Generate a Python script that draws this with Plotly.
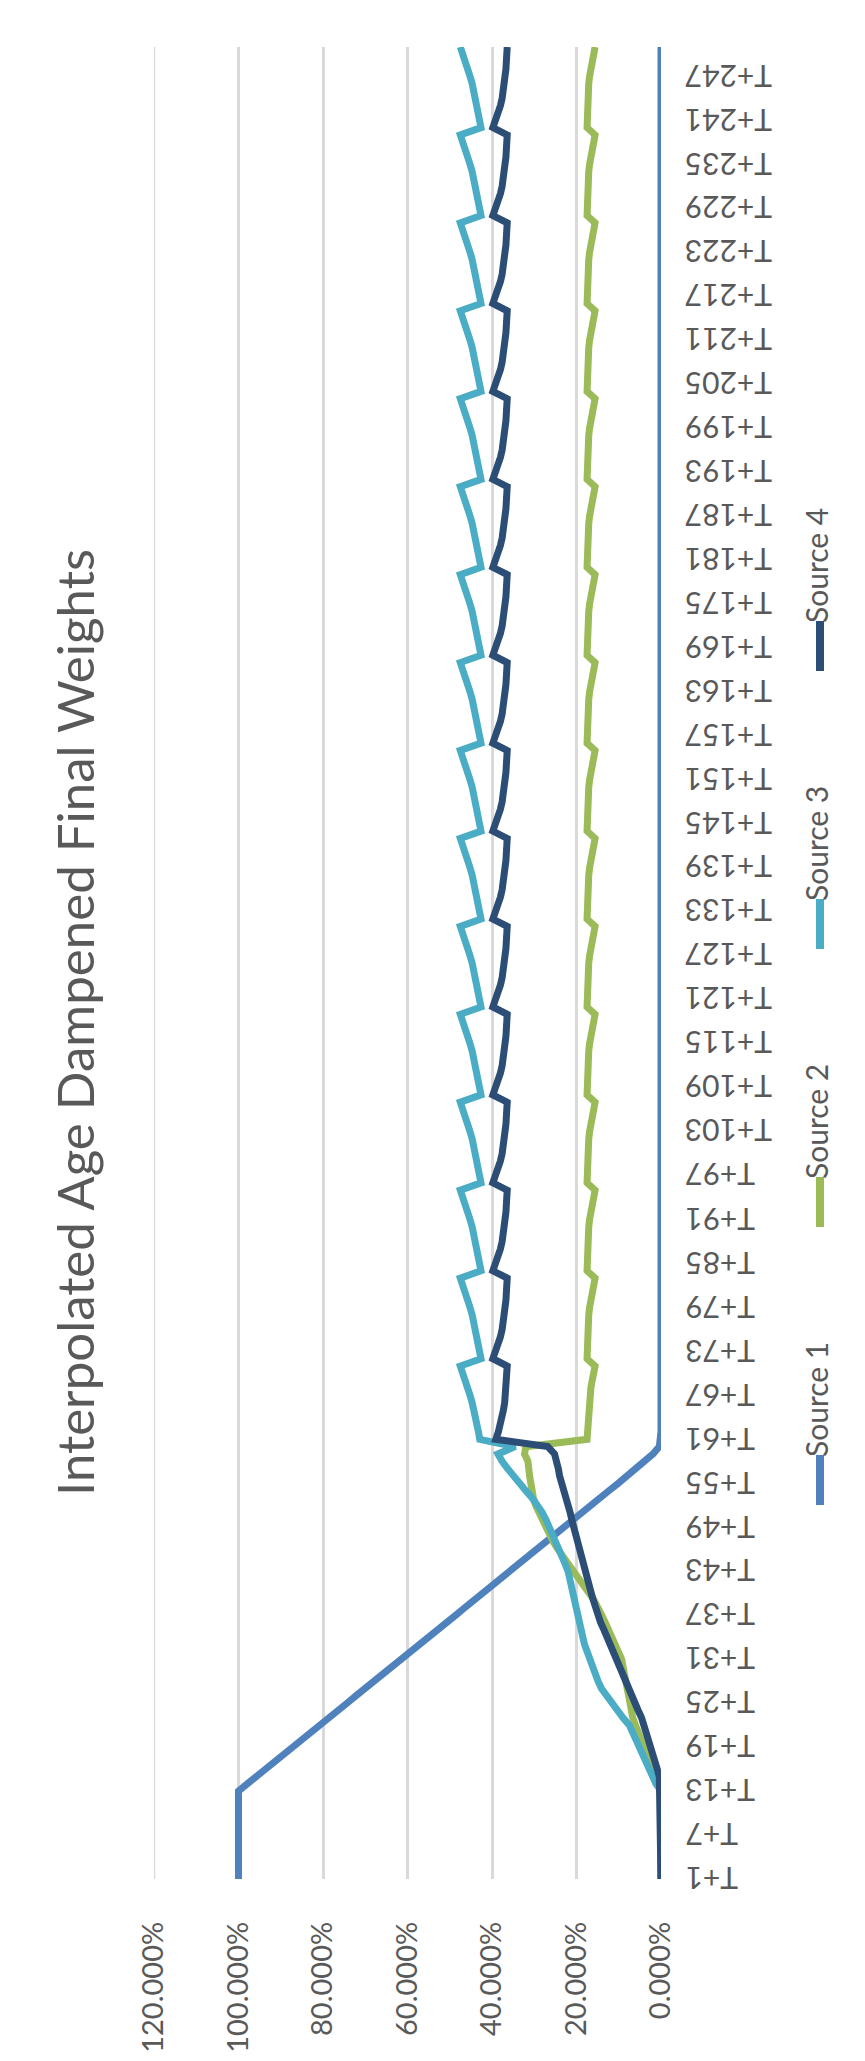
import plotly.graph_objs as go

# categories T+1 .. T+251, every 6th one labelled
categories = ["T+{}".format(i) for i in range(1, 252)]
tick_labels = categories[::6]

value_ticks = [0, 20, 40, 60, 80, 100, 120]
value_tick_text = ["0.000%", "20.000%", "40.000%", "60.000%", "80.000%", "100.000%", "120.000%"]

series_names = ["Source 1", "Source 2", "Source 3", "Source 4"]
series_colors = ["#4F81BD", "#9BBB59", "#4BACC6", "#2C4D75"]

# values in percent
source1 = ([100.0] * 13 +
           [97.9, 95.7, 93.6, 91.4, 89.3, 87.2, 85.0, 82.9, 80.7,
            78.6, 76.5, 74.3, 72.2, 70.0, 67.9, 65.8, 63.6, 61.5,
            59.3, 57.2, 55.1, 52.9, 50.8, 48.6, 46.5, 44.4, 42.2,
            40.1, 37.9, 35.8, 33.7, 31.5, 29.4, 27.2, 25.1, 23.0,
            20.8, 18.7, 16.5, 14.4, 12.3, 10.1, 8.0, 5.9, 3.8, 1.9,
            0.4] +
           [0.0] * 191)

source2 = ([0.0] * 13 +
           [0.7, 1.4, 2.1, 2.8, 3.5, 4.2, 4.9, 5.6, 6.3,
            6.7, 7.0, 7.4, 7.7, 8.0, 8.4, 8.7, 9.0, 9.3,
            10.0, 10.8, 11.6, 12.4, 13.2, 14.0, 14.7,
            15.8, 17.0, 18.3, 19.5, 20.8, 22.0, 23.2, 24.4, 25.5,
            26.4, 27.3, 28.2, 29.1, 29.7, 30.2, 30.6, 30.9, 31.1, 31.3, 31.5, 32.3, 32.0] +
           [17.5, 17.4, 17.4, 17.3, 17.2, 17.1, 16.9, 16.6, 16.3, 16.0, 15.6] +
           [17.5, 17.5, 17.4, 17.4, 17.3, 17.2, 17.1, 16.9, 16.6, 16.3, 16.0, 15.6,  # T+72
            17.5, 17.5, 17.4, 17.4, 17.3, 17.2, 17.1, 16.9, 16.6, 16.3, 16.0, 15.6,  # T+84
            17.5, 17.5, 17.4, 17.4, 17.3, 17.2, 17.1, 16.9, 16.6, 16.3, 16.0, 15.6,  # T+96
            17.5, 17.5, 17.4, 17.4, 17.3, 17.2, 17.1, 16.9, 16.6, 16.3, 16.0, 15.6,  # T+108
            17.5, 17.5, 17.4, 17.4, 17.3, 17.2, 17.1, 16.9, 16.6, 16.3, 16.0, 15.6,  # T+120
            17.5, 17.5, 17.4, 17.4, 17.3, 17.2, 17.1, 16.9, 16.6, 16.3, 16.0, 15.6,  # T+132
            17.5, 17.5, 17.4, 17.4, 17.3, 17.2, 17.1, 16.9, 16.6, 16.3, 16.0, 15.6,  # T+144
            17.5, 17.5, 17.4, 17.4, 17.3, 17.2, 17.1, 16.9, 16.6, 16.3, 16.0, 15.6,  # T+156
            17.5, 17.5, 17.4, 17.4, 17.3, 17.2, 17.1, 16.9, 16.6, 16.3, 16.0, 15.6,  # T+168
            17.5, 17.5, 17.4, 17.4, 17.3, 17.2, 17.1, 16.9, 16.6, 16.3, 16.0, 15.6,  # T+180
            17.5, 17.5, 17.4, 17.4, 17.3, 17.2, 17.1, 16.9, 16.6, 16.3, 16.0, 15.6,  # T+192
            17.5, 17.5, 17.4, 17.4, 17.3, 17.2, 17.1, 16.9, 16.6, 16.3, 16.0, 15.6,  # T+204
            17.5, 17.5, 17.4, 17.4, 17.3, 17.2, 17.1, 16.9, 16.6, 16.3, 16.0, 15.6,  # T+216
            17.5, 17.5, 17.4, 17.4, 17.3, 17.2, 17.1, 16.9, 16.6, 16.3, 16.0, 15.6,  # T+228
            17.5, 17.5, 17.4, 17.4, 17.3, 17.2, 17.1, 16.9, 16.6, 16.3, 16.0, 15.6]) # T+240

source3 = ([0.0] * 13 +
           [1.2, 2.0, 2.8, 3.5, 4.2, 5.0, 5.7, 6.5, 7.5,
            9.0, 10.4, 11.7, 13.0, 14.1, 14.9, 15.6, 16.3, 17.0,
            17.6, 18.1, 18.5, 18.9, 19.3, 19.7, 20.1,
            20.5, 20.8, 21.1, 21.4, 22.0, 22.7, 23.4, 24.1, 24.9,
            25.6, 26.4, 27.2, 28.1, 29.2, 30.5, 32.0, 33.6, 35.0, 36.3, 37.6, 38.6, 34.5] +
           [42.9, 43.2, 43.5, 43.9, 44.3, 44.7, 45.2, 45.7, 46.2, 46.8, 47.5] +
           [42.6, 42.9, 43.2, 43.5, 43.9, 44.3, 44.7, 45.2, 45.7, 46.2, 46.8, 47.5,  # T+72
            42.6, 42.9, 43.2, 43.5, 43.9, 44.3, 44.7, 45.2, 45.7, 46.2, 46.8, 47.5,  # T+84
            42.6, 42.9, 43.2, 43.5, 43.9, 44.3, 44.7, 45.2, 45.7, 46.2, 46.8, 47.5,  # T+96
            42.6, 42.9, 43.2, 43.5, 43.9, 44.3, 44.7, 45.2, 45.7, 46.2, 46.8, 47.5,  # T+108
            42.6, 42.9, 43.2, 43.5, 43.9, 44.3, 44.7, 45.2, 45.7, 46.2, 46.8, 47.5,  # T+120
            42.6, 42.9, 43.2, 43.5, 43.9, 44.3, 44.7, 45.2, 45.7, 46.2, 46.8, 47.5,  # T+132
            42.6, 42.9, 43.2, 43.5, 43.9, 44.3, 44.7, 45.2, 45.7, 46.2, 46.8, 47.5,  # T+144
            42.6, 42.9, 43.2, 43.5, 43.9, 44.3, 44.7, 45.2, 45.7, 46.2, 46.8, 47.5,  # T+156
            42.6, 42.9, 43.2, 43.5, 43.9, 44.3, 44.7, 45.2, 45.7, 46.2, 46.8, 47.5,  # T+168
            42.6, 42.9, 43.2, 43.5, 43.9, 44.3, 44.7, 45.2, 45.7, 46.2, 46.8, 47.5,  # T+180
            42.6, 42.9, 43.2, 43.5, 43.9, 44.3, 44.7, 45.2, 45.7, 46.2, 46.8, 47.5,  # T+192
            42.6, 42.9, 43.2, 43.5, 43.9, 44.3, 44.7, 45.2, 45.7, 46.2, 46.8, 47.5,  # T+204
            42.6, 42.9, 43.2, 43.5, 43.9, 44.3, 44.7, 45.2, 45.7, 46.2, 46.8, 47.5,  # T+216
            42.6, 42.9, 43.2, 43.5, 43.9, 44.3, 44.7, 45.2, 45.7, 46.2, 46.8, 47.5,  # T+228
            42.6, 42.9, 43.2, 43.5, 43.9, 44.3, 44.7, 45.2, 45.7, 46.2, 46.8, 47.5]) # T+240

source4 = ([0.0] * 13 +
           [0.1, 0.4, 0.9, 1.4, 2.0, 2.6, 3.1, 3.5, 3.9,
            4.6, 5.4, 6.1, 6.8, 7.5, 8.3, 9.0, 9.7, 10.4,
            11.2, 12.0, 12.8, 13.5, 14.3, 15.0, 15.5,
            16.0, 16.5, 17.0, 17.5, 17.9, 18.4, 18.9, 19.4, 19.9,
            20.4, 20.7, 21.1, 21.5, 22.0, 22.8, 23.2, 23.6, 24.0, 24.3, 24.6, 25.2, 26.8] +
           [39.1, 38.5, 38.0, 37.6, 37.3, 37.0, 36.8, 36.7, 36.6, 36.5, 36.4] +
           [39.8, 39.1, 38.5, 38.0, 37.6, 37.3, 37.0, 36.8, 36.7, 36.6, 36.5, 36.4,  # T+72
            39.8, 39.1, 38.5, 38.0, 37.6, 37.3, 37.0, 36.8, 36.7, 36.6, 36.5, 36.4,  # T+84
            39.8, 39.1, 38.5, 38.0, 37.6, 37.3, 37.0, 36.8, 36.7, 36.6, 36.5, 36.4,  # T+96
            39.8, 39.1, 38.5, 38.0, 37.6, 37.3, 37.0, 36.8, 36.7, 36.6, 36.5, 36.4,  # T+108
            39.8, 39.1, 38.5, 38.0, 37.6, 37.3, 37.0, 36.8, 36.7, 36.6, 36.5, 36.4,  # T+120
            39.8, 39.1, 38.5, 38.0, 37.6, 37.3, 37.0, 36.8, 36.7, 36.6, 36.5, 36.4,  # T+132
            39.8, 39.1, 38.5, 38.0, 37.6, 37.3, 37.0, 36.8, 36.7, 36.6, 36.5, 36.4,  # T+144
            39.8, 39.1, 38.5, 38.0, 37.6, 37.3, 37.0, 36.8, 36.7, 36.6, 36.5, 36.4,  # T+156
            39.8, 39.1, 38.5, 38.0, 37.6, 37.3, 37.0, 36.8, 36.7, 36.6, 36.5, 36.4,  # T+168
            39.8, 39.1, 38.5, 38.0, 37.6, 37.3, 37.0, 36.8, 36.7, 36.6, 36.5, 36.4,  # T+180
            39.8, 39.1, 38.5, 38.0, 37.6, 37.3, 37.0, 36.8, 36.7, 36.6, 36.5, 36.4,  # T+192
            39.8, 39.1, 38.5, 38.0, 37.6, 37.3, 37.0, 36.8, 36.7, 36.6, 36.5, 36.4,  # T+204
            39.8, 39.1, 38.5, 38.0, 37.6, 37.3, 37.0, 36.8, 36.7, 36.6, 36.5, 36.4,  # T+216
            39.8, 39.1, 38.5, 38.0, 37.6, 37.3, 37.0, 36.8, 36.7, 36.6, 36.5, 36.4,  # T+228
            39.8, 39.1, 38.5, 38.0, 37.6, 37.3, 37.0, 36.8, 36.7, 36.6, 36.5, 36.4]) # T+240

all_series = [source1, source2, source3, source4]
for s in all_series:
    assert len(s) == len(categories), len(s)

# page geometry (the whole chart is shown rotated a quarter turn)
W, H = 865, 2061
PLOT_L, PLOT_R, PLOT_T, PLOT_B = 146, 653, 39, 1871
FONT = "Lato"
GREY_TEXT = "#595959"


def px_x(px):
    return (px - PLOT_L) / (PLOT_R - PLOT_L)


def px_y(py):
    return (PLOT_B - py) / (PLOT_B - PLOT_T)


fig = go.Figure()

for name, color, values in zip(series_names, series_colors, all_series):
    fig.add_trace(go.Scatter(x=values, y=categories, name=name, mode="lines",
                             line=dict(color=color, width=7), showlegend=False))

fig.update_layout(
    width=W, height=H,
    margin=dict(l=PLOT_L, r=W - PLOT_R, t=PLOT_T, b=H - PLOT_B),
    paper_bgcolor="white", plot_bgcolor="white",
    font=dict(family=FONT, color=GREY_TEXT, size=30),
)

fig.update_xaxes(range=[120, 0], tickmode="array", tickvals=value_ticks, ticktext=value_tick_text,
                 tickangle=-90, showgrid=True, gridcolor="#D9D9D9", gridwidth=2.5,
                 zeroline=False, showline=False, ticks="", ticklabelstandoff=36,
                 automargin=False, tickfont=dict(size=29, color=GREY_TEXT))

fig.update_yaxes(type="category", categoryorder="array", categoryarray=categories,
                 range=[0, len(categories) - 1], showticklabels=False, automargin=False,
                 showgrid=False, zeroline=False, showline=False, ticks="")

# 120% gridline sits on the plot edge, draw it so it is not lost
fig.add_shape(type="line", xref="x", yref="paper", x0=120, x1=120, y0=0, y1=1,
              line=dict(color="#D9D9D9", width=2.5), layer="below")

# category labels come out upside down in the turned chart, flush at their ends
for lab in tick_labels:
    fig.add_annotation(text=lab, xref="paper", yref="y", x=px_x(675), y=lab,
                       xanchor="left", yanchor="middle", textangle=180, showarrow=False,
                       font=dict(size=30, color=GREY_TEXT))

# title, written sideways
fig.add_annotation(text="Interpolated Age Dampened Final Weights", xref="paper", yref="paper",
                   x=px_x(66), y=px_y(1015), xanchor="center", yanchor="middle",
                   textangle=-90, showarrow=False,
                   font=dict(size=51, color=GREY_TEXT, family=FONT))

# legend, drawn by hand so it can be turned with the chart
legend_text_y = [1392, 1114, 836, 558]
legend_x = 808
for name, color, ty in zip(series_names, series_colors, legend_text_y):
    fig.add_annotation(text=name, xref="paper", yref="paper", x=px_x(legend_x), y=px_y(ty),
                       xanchor="center", yanchor="middle", textangle=-90, showarrow=False,
                       font=dict(size=30, color=GREY_TEXT))
    fig.add_shape(type="line", xref="paper", yref="paper",
                  x0=px_x(legend_x + 4), x1=px_x(legend_x + 4),
                  y0=px_y(ty + 55), y1=px_y(ty + 105),
                  line=dict(color=color, width=8))

fig.write_html("out.html")
